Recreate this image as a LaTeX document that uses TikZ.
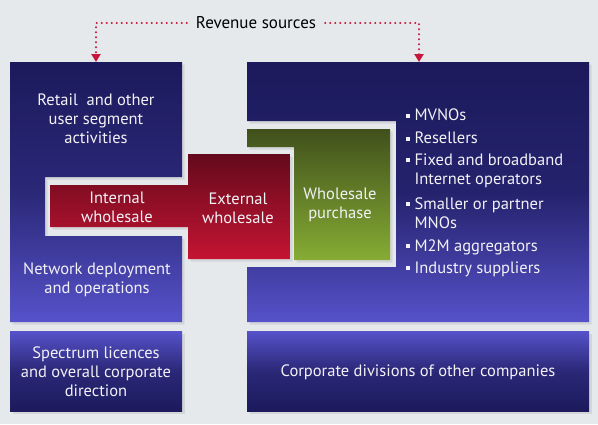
\documentclass[tikz,border=0pt]{standalone}
\usepackage{fontspec}
\setmainfont{PT Sans}
\usepackage{tikz}
\usetikzlibrary{arrows.meta, positioning, calc, shadows}
\definecolor{navy}{RGB}{28,26,92}
\definecolor{lavender}{RGB}{86,82,202}
\definecolor{wine}{RGB}{100,10,28}
\definecolor{crimson}{RGB}{196,20,50}
\definecolor{olive}{RGB}{64,80,28}
\definecolor{lime}{RGB}{134,172,52}
\definecolor{bg}{RGB}{230,233,236}
\definecolor{dotred}{RGB}{200,22,58}
\definecolor{paper}{RGB}{242,242,246}
\newcommand{\blt}{\rule[3pt]{4pt}{4pt}}

\begin{document}
\begin{tikzpicture}[
    x=1pt, y=-1pt,
    txt/.style={text=paper, align=center, font=\fontsize{16.5}{19}\selectfont, inner sep=0pt},
    listitem/.style={text=paper, align=left, anchor=west, font=\fontsize{16.5}{19.5}\selectfont, inner sep=0pt},
    panel/.style={drop shadow={shadow xshift=2.5pt, shadow yshift=-2.5pt, opacity=0.18}},
    dotline/.style={dotred, line width=2.2pt, dash pattern=on 0pt off 5pt, line cap=round, -{Triangle[width=9pt,length=8pt]}}
]
\useasboundingbox (0,0) rectangle (598,424);
\fill[bg] (0,0) rectangle (598,424);

% Own company: notched panel and corporate box
\path[panel, top color=navy, bottom color=lavender, middle color=navy!75!lavender]
  (10,62) -- (182,62) -- (182,177) -- (45,177) -- (45,236) -- (182,236) -- (182,322) -- (10,322) -- cycle;
\path[panel, top color=lavender, bottom color=navy, middle color=navy!75!lavender]
  (10,331) rectangle (182,411);

% Other companies: notched panel and corporate box
\path[panel, top color=navy, bottom color=lavender, middle color=navy!85!lavender]
  (247,62) -- (589,62) -- (589,322) -- (247,322) -- (247,267) -- (396,267) -- (396,121) -- (247,121) -- cycle;
\path[panel, top color=lavender, bottom color=navy, middle color=navy!75!lavender]
  (247,331) rectangle (589,411);

% Wholesale flows
\path[panel, top color=olive, bottom color=lime]
  (247,129) -- (390,129) -- (390,260) -- (294,260) -- (294,147) -- (247,147) -- cycle;
\path[panel, top color=wine, bottom color=crimson]
  (50,185) -- (188,185) -- (188,154) -- (290,154) -- (290,259) -- (188,259) -- (188,227) -- (50,227) -- cycle;

% Texts
\node[txt] (retail) at (96,119) {Retail\ \ and other\\user segment\\activities};
\node[txt] (network) at (97,280) {Network deployment\\and operations};
\node[txt] (internal) at (117,207) {Internal\\wholesale};
\node[txt] (external) at (238,208) {External\\wholesale};
\node[txt] (purchase) at (340,205) {Wholesale\\purchase};
\node[txt] (spectrum) at (96,372) {Spectrum licences\\and overall corporate\\direction};
\node[txt] (corporate) at (418,372) {Corporate divisions of other companies};

% Buyer list
\node[listitem] (mvno) at (406,115) {\blt\ MVNOs};
\node[listitem] (resellers) at (406,138) {\blt\ Resellers};
\node[listitem] (fixed) at (406,171) {\blt\ Fixed and broadband\\\phantom{\blt\ }Internet operators};
\node[listitem] (partner) at (406,213) {\blt\ Smaller or partner\\\phantom{\blt\ }MNOs};
\node[listitem] (m2m) at (406,247) {\blt\ M2M aggregators};
\node[listitem] (industry) at (406,269) {\blt\ Industry suppliers};

% Revenue sources
\node[font=\fontsize{17}{20}\selectfont, inner xsep=9pt] (revenue) at (256,23) {Revenue sources};
\coordinate (owntop) at (96,62);
\coordinate (othertop) at (419,62);
\draw[dotline] (revenue.west) -| (owntop);
\draw[dotline] (revenue.east) -| (othertop);

\end{tikzpicture}
\end{document}
